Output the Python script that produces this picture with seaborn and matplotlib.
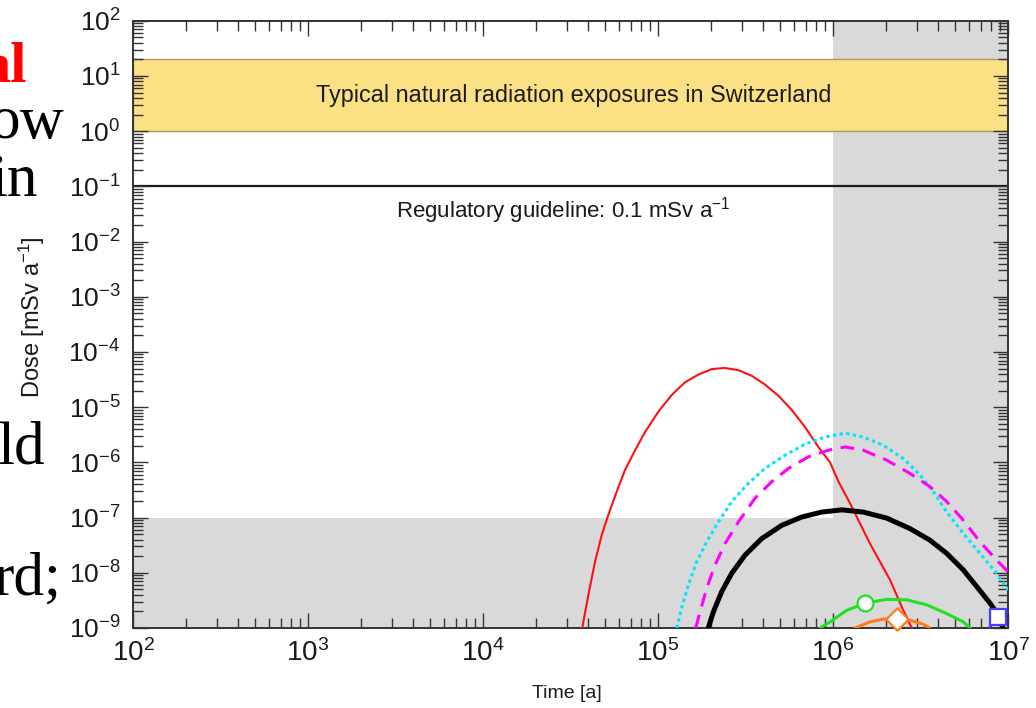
import numpy as np
import pandas as pd
import matplotlib
matplotlib.use("Agg")
import matplotlib.pyplot as plt
from matplotlib.ticker import LogLocator, NullFormatter
import seaborn as sns

# ---- data (log10 values) ----
red_log_t = [4.567, 4.602, 4.640, 4.678, 4.716, 4.764, 4.811, 4.869, 4.926, 5.002,
             5.078, 5.154, 5.230, 5.307, 5.383, 5.459, 5.535, 5.611, 5.687, 5.764,
             5.840, 5.916, 5.983, 6.030, 6.097, 6.211, 6.326, 6.393, 6.450]
red_log_dose = [-9.0, -8.40, -7.80, -7.32, -6.95, -6.53, -6.14, -5.78, -5.45, -5.08,
                -4.78, -4.55, -4.41, -4.31, -4.29, -4.33, -4.43, -4.59, -4.79, -5.05,
                -5.36, -5.72, -6.00, -6.34, -6.74, -7.47, -8.13, -8.62, -9.0]

cyan_log_t = [5.107, 5.135, 5.173, 5.221, 5.278, 5.345, 5.421, 5.516, 5.611, 5.726,
              5.840, 5.954, 6.069, 6.173, 6.287, 6.402, 6.497, 6.573, 6.650, 6.745,
              6.840, 6.935, 7.0]
cyan_log_dose = [-9.0, -8.64, -8.22, -7.80, -7.44, -7.08, -6.71, -6.38, -6.11, -5.87,
                 -5.67, -5.54, -5.47, -5.54, -5.69, -5.93, -6.23, -6.53, -6.90, -7.29,
                 -7.65, -8.01, -8.31]

magenta_log_t = [5.215, 5.240, 5.278, 5.326, 5.383, 5.459, 5.554, 5.650, 5.745, 5.859,
                 5.973, 6.069, 6.173, 6.307, 6.440, 6.554, 6.650, 6.745, 6.840, 6.935, 7.0]
magenta_log_dose = [-9.0, -8.71, -8.28, -7.86, -7.47, -7.08, -6.65, -6.35, -6.11, -5.90,
                    -5.78, -5.72, -5.78, -5.96, -6.20, -6.44, -6.71, -7.05, -7.44, -7.77, -7.98]

black_log_t = [5.287, 5.316, 5.364, 5.421, 5.497, 5.593, 5.707, 5.821, 5.935, 6.050,
               6.173, 6.307, 6.440, 6.554, 6.650, 6.745, 6.821, 6.897, 6.945, 6.971]
black_log_dose = [-9.0, -8.71, -8.34, -8.01, -7.68, -7.38, -7.14, -6.99, -6.90, -6.86,
                  -6.90, -7.01, -7.20, -7.41, -7.65, -7.95, -8.25, -8.55, -8.77, -9.0]

green_log_t = [5.926, 5.983, 6.078, 6.183, 6.307, 6.421, 6.535, 6.650, 6.745, 6.783]
green_log_dose = [-9.0, -8.89, -8.68, -8.55, -8.48, -8.49, -8.58, -8.74, -8.89, -9.0]

orange_log_t = [6.126, 6.211, 6.287, 6.364, 6.440, 6.507, 6.554]
orange_log_dose = [-9.0, -8.89, -8.84, -8.84, -8.86, -8.92, -9.0]

blue_log_t = [6.89, 6.945, 7.0]
blue_log_dose = [-9.0, -8.80, -8.70]

# markers (log10 time, log10 dose)
green_marker = (6.183, -8.55)
orange_marker = (6.364, -8.84)
blue_marker = (6.945, -8.80)

# bands / references (mSv/a)
natural_band = (1.0, 20.0)
guideline = 0.1
grey_time_start = 1e6
grey_dose_top = 1e-7

band_text = "Typical natural radiation exposures in Switzerland"
guide_text = "Regulatory guideline: 0.1 mSv a$^{-1}$"

# ---- style ----
sns.set_theme(style="white")
plt.rcParams['font.family'] = ['Liberation Sans', 'DejaVu Sans']
plt.rcParams['axes.unicode_minus'] = False
plt.rcParams['mathtext.fontset'] = 'custom'
plt.rcParams['mathtext.rm'] = 'Liberation Sans'
plt.rcParams['mathtext.it'] = 'Liberation Sans:italic'
plt.rcParams['mathtext.bf'] = 'Liberation Sans:bold'

fig = plt.figure(figsize=(10.36, 7.08), dpi=100)
ax = fig.add_axes([0.1284, 0.1130, 0.8446, 0.8577])
ax.set_xscale('log')
ax.set_yscale('log')
ax.set_xlim(1e2, 1e7)
ax.set_ylim(1e-9, 1e2)

grey = '#d9d9d9'
ax.axvspan(grey_time_start, 1e7, facecolor=grey, edgecolor='none', zorder=0.2)
ax.axhspan(1e-9, grey_dose_top, facecolor=grey, edgecolor='none', zorder=0.2)
ax.axhspan(*natural_band, facecolor='#fce184', edgecolor='#a99c63', lw=1.0, zorder=0.4)
ax.axhline(guideline, color='#1a1a1a', lw=1.6, zorder=0.5)

def mk(lt, ld):
    return pd.DataFrame({'time': 10 ** np.array(lt), 'dose': 10 ** np.array(ld)})

series = [
    (red_log_t, red_log_dose, '#ff1010', 1.5, '-'),
    (cyan_log_t, cyan_log_dose, '#00e5ff', 2.2, (0, (1.1, 1.1))),
    (magenta_log_t, magenta_log_dose, '#ff00ff', 2.2, (0, (4.5, 2.8))),
    (black_log_t, black_log_dose, '#000000', 3.6, '-'),
    (green_log_t, green_log_dose, '#22e022', 2.2, '-'),
    (orange_log_t, orange_log_dose, '#ff7a1a', 2.2, '-'),
    (blue_log_t, blue_log_dose, '#4a3cff', 1.8, '-'),
]
for lt, ld, c, lw, ls in series:
    sns.lineplot(data=mk(lt, ld), x='time', y='dose', ax=ax, color=c, lw=lw,
                 linestyle=ls, estimator=None, sort=False, zorder=3,
                 solid_joinstyle='round', solid_capstyle='round')

for (mx, my), m, c in [(green_marker, 'o', '#22e022'), (orange_marker, 'D', '#ff7a1a'),
                       (blue_marker, 's', '#4a3cff')]:
    sns.scatterplot(x=[10 ** mx], y=[10 ** my], ax=ax, marker=m, s=130,
                    facecolor='white', edgecolor=c, linewidth=1.6, zorder=4, clip_on=False)

ax.text(10 ** 4.517, 10 ** 0.65, band_text, ha='center', va='center', fontsize=16.8,
        color='#1a1a1a', zorder=5)
ax.text(10 ** 4.457, 10 ** -1.43, guide_text, ha='center', va='center', fontsize=16,
        color='#1a1a1a', zorder=5)

# ticks
for axis in (ax.xaxis, ax.yaxis):
    axis.set_major_locator(LogLocator(base=10, numticks=30))
    axis.set_minor_locator(LogLocator(base=10, subs=np.arange(2, 10), numticks=300))
    axis.set_minor_formatter(NullFormatter())
ax.tick_params(which='both', direction='in', bottom=True, left=True, top=True, right=True,
               color='#333333', width=1.0)
ax.tick_params(which='major', length=11)
ax.tick_params(which='minor', length=7)
ax.tick_params(axis='x', labelsize=20, pad=8, labelcolor='#1a1a1a')
ax.tick_params(axis='y', labelsize=19, pad=9, labelcolor='#1a1a1a')
for s in ax.spines.values():
    s.set_color('#333333')
    s.set_linewidth(1.4)
ax.set_xlabel('')
ax.set_ylabel('')

fig.text(567 / 1036, 1 - 693 / 708, 'Time [a]', ha='center', va='center', fontsize=14,
         color='#1a1a1a')
fig.text(31.5 / 1036, 1 - 317 / 708, 'Dose [mSv a$^{-1}$]', rotation=90, ha='center',
         va='center', fontsize=17, color='#1a1a1a')

# partial slide text visible at the left edge
serif = ['Liberation Serif', 'DejaVu Serif']
fig.text(27 / 1036, 1 - 82 / 708, 'al', color='red', fontweight='bold', family=serif,
         fontsize=42, ha='right', va='baseline')
for txt, xr, yb in [('ow', 64, 138), ('in', 38, 196), ('ld', 45, 463), ('rd;', 62, 595)]:
    fig.text(xr / 1036, 1 - yb / 708, txt, color='black', family=serif, fontsize=44,
             ha='right', va='baseline')

fig.savefig('out.png', dpi=100)
